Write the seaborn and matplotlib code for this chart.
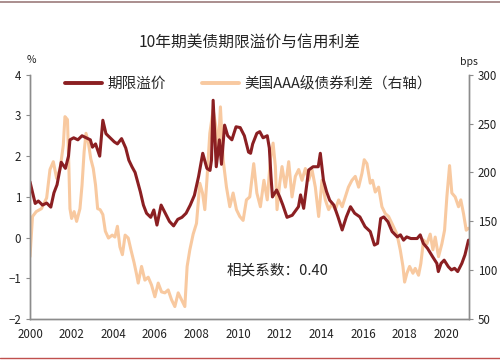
import matplotlib
matplotlib.use("Agg")
import matplotlib.pyplot as plt
import seaborn as sns
import pandas as pd

# term premium (%), left axis
tp_year = [2000.0, 2000.15, 2000.25, 2000.4, 2000.6, 2000.8, 2001.0, 2001.15, 2001.3, 2001.5,
           2001.7, 2001.85, 2001.92, 2002.1, 2002.3, 2002.5, 2002.7, 2002.9, 2003.0, 2003.15,
           2003.35, 2003.5, 2003.65, 2003.85, 2004.05, 2004.2, 2004.4, 2004.6, 2004.75, 2004.9,
           2005.05, 2005.3, 2005.45, 2005.6, 2005.8, 2005.95, 2006.1, 2006.3, 2006.5, 2006.7,
           2006.9, 2007.1, 2007.3, 2007.5, 2007.7, 2007.9, 2008.1, 2008.3, 2008.5, 2008.65,
           2008.72, 2008.8, 2008.95, 2009.1, 2009.2, 2009.35, 2009.5, 2009.7, 2009.9, 2010.1,
           2010.3, 2010.5, 2010.6, 2010.7, 2010.9, 2011.04, 2011.2, 2011.4, 2011.5, 2011.58,
           2011.65, 2011.85, 2012.0, 2012.15, 2012.35, 2012.6, 2012.9, 2013.0, 2013.15, 2013.39,
           2013.6, 2013.85, 2013.95, 2014.1, 2014.25, 2014.4, 2014.6, 2014.8, 2015.0, 2015.2,
           2015.4, 2015.6, 2015.85, 2016.1, 2016.35, 2016.55, 2016.7, 2016.85, 2017.0, 2017.2,
           2017.4, 2017.65, 2017.8, 2017.95, 2018.1, 2018.3, 2018.6, 2018.75, 2018.9, 2019.1,
           2019.35, 2019.55, 2019.62, 2019.75, 2019.9, 2020.1, 2020.25, 2020.4, 2020.55, 2020.75,
           2020.9, 2021.07]
tp_value = [1.37, 1.05, 0.84, 0.9, 0.8, 0.85, 0.75, 1.1, 1.3, 1.85,
            1.7, 2.0, 2.4, 2.45, 2.4, 2.5, 2.45, 2.4, 2.22, 2.3,
            2.0, 2.88, 2.55, 2.45, 2.35, 2.3, 2.43, 2.2, 1.9, 1.74,
            1.6, 1.13, 0.8, 0.6, 0.5, 0.68, 0.31, 0.8, 0.6, 0.4,
            0.29, 0.45, 0.5, 0.6, 0.8, 1.04, 1.5, 2.07, 1.7, 1.65,
            1.9, 3.37, 1.74, 2.4, 1.8, 2.76, 2.5, 2.4, 2.72, 2.7,
            2.5, 2.1, 2.07, 2.3, 2.56, 2.6, 2.45, 2.5, 2.2, 1.5,
            1.0, 1.17, 1.0, 0.8, 0.5, 0.55, 0.76, 1.05, 0.72, 1.66,
            1.74, 1.74, 2.07, 1.41, 1.13, 0.92, 0.8, 0.51, 0.19, 0.51,
            0.76, 0.6, 0.51, 0.27, 0.15, -0.18, -0.14, 0.47, 0.51, 0.39,
            0.15, 0.02, 0.07, -0.06, 0.02, -0.02, -0.02, 0.07, -0.14, -0.26,
            -0.47, -0.63, -0.83, -0.63, -0.55, -0.71, -0.79, -0.75, -0.83, -0.63,
            -0.42, -0.06]

# US AAA credit spread (bps), right axis
cs_year = [2000.0, 2000.12, 2000.3, 2000.55, 2000.8, 2000.96, 2001.12, 2001.28, 2001.45, 2001.6,
           2001.68, 2001.8, 2001.87, 2001.92, 2002.0, 2002.12, 2002.24, 2002.4, 2002.5, 2002.6,
           2002.69, 2002.8, 2002.92, 2003.04, 2003.15, 2003.25, 2003.37, 2003.5, 2003.62, 2003.77,
           2003.95, 2004.08, 2004.2, 2004.32, 2004.44, 2004.57, 2004.72, 2004.85, 2005.0, 2005.12,
           2005.2, 2005.36, 2005.52, 2005.68, 2005.84, 2006.0, 2006.16, 2006.32, 2006.48, 2006.64,
           2006.8, 2006.96, 2007.12, 2007.28, 2007.44, 2007.55, 2007.68, 2007.84, 2008.0, 2008.16,
           2008.29, 2008.4, 2008.5, 2008.64, 2008.8, 2008.93, 2009.04, 2009.15, 2009.28, 2009.44,
           2009.6, 2009.76, 2009.92, 2010.08, 2010.24, 2010.4, 2010.56, 2010.75, 2010.9, 2011.07,
           2011.24, 2011.4, 2011.55, 2011.68, 2011.79, 2011.87, 2012.0, 2012.11, 2012.27, 2012.43,
           2012.59, 2012.75, 2012.91, 2013.07, 2013.23, 2013.39, 2013.55, 2013.71, 2013.87, 2014.03,
           2014.19, 2014.35, 2014.51, 2014.67, 2014.83, 2015.0, 2015.15, 2015.3, 2015.47, 2015.63,
           2015.79, 2015.95, 2016.06, 2016.19, 2016.35, 2016.46, 2016.59, 2016.75, 2016.91, 2017.07,
           2017.23, 2017.39, 2017.63, 2017.79, 2017.92, 2018.0, 2018.11, 2018.24, 2018.4, 2018.51,
           2018.67, 2018.78, 2018.91, 2019.07, 2019.23, 2019.36, 2019.47, 2019.63, 2019.79, 2019.92,
           2020.03, 2020.16, 2020.27, 2020.43, 2020.59, 2020.7, 2020.83, 2020.96, 2021.07]
cs_value = [114, 155, 160, 163, 174, 203, 211, 194, 204, 228,
            257, 254, 204, 163, 153, 160, 150, 163, 187, 221,
            240, 231, 214, 204, 187, 163, 162, 157, 140, 133,
            136, 134, 145, 124, 116, 136, 133, 121, 108, 96,
            87, 104, 90, 93, 85, 73, 87, 78, 77, 80,
            70, 63, 77, 70, 63, 104, 121, 137, 148, 189,
            179, 162, 192, 240, 264, 247, 220, 267, 213, 185,
            165, 179, 162, 155, 151, 172, 175, 209, 179, 165,
            192, 172, 213, 230, 206, 162, 189, 206, 185, 211,
            175, 196, 203, 192, 204, 192, 203, 185, 155, 192,
            172, 162, 168, 162, 172, 165, 175, 185, 192, 196,
            185, 199, 213, 209, 189, 192, 180, 185, 165, 158,
            155, 148, 137, 121, 104, 88, 97, 104, 97, 102,
            95, 107, 131, 127, 137, 121, 134, 114, 127, 141,
            175, 207, 179, 175, 165, 172, 158, 141, 143]

x_ticks = list(range(2000, 2021, 2))
left_ticks = [-2, -1, 0, 1, 2, 3, 4]
right_ticks = [50, 100, 150, 200, 250, 300]

tp_df = pd.DataFrame({"year": tp_year, "value": tp_value})
cs_df = pd.DataFrame({"year": cs_year, "value": cs_value})

sns.set_style("white")
plt.rcParams['font.family'] = ['Noto Sans CJK SC', 'DejaVu Sans']

dark = "#8b1f22"
light = "#f8c9a0"
grey = "#8c8c8c"
txt = "#222222"

fig = plt.figure(figsize=(5, 3.62), dpi=100)
ax = fig.add_axes([0.06, 0.118, 0.877, 0.676])
ax2 = ax.twinx()

sns.lineplot(data=cs_df, x="year", y="value", ax=ax2, color=light, linewidth=2.2,
             label="美国AAA级债券利差（右轴）", legend=False)
sns.lineplot(data=tp_df, x="year", y="value", ax=ax, color=dark, linewidth=2.2,
             label="期限溢价", legend=False)

ax.set_zorder(ax2.get_zorder() + 1)
ax.patch.set_visible(False)

ax.set_xlim(2000, 2021.07)
ax.set_ylim(-2, 4)
ax2.set_ylim(50, 300)
ax.set_xticks(x_ticks)
ax.set_yticks(left_ticks)
ax2.set_yticks(right_ticks)
ax.set_xlabel("")
ax.set_ylabel("")
ax2.set_ylabel("")

for a in (ax, ax2):
    for s in a.spines.values():
        s.set_color(grey)
        s.set_linewidth(1.0)
    a.spines['top'].set_visible(False)
    a.tick_params(axis='both', labelsize=8.3, length=3, width=0.8,
                  direction='out', colors=grey, labelcolor=txt)

h1, l1 = ax.get_legend_handles_labels()
h2, l2 = ax2.get_legend_handles_labels()
ax.legend(h1 + h2, l1 + l2, loc="upper left", bbox_to_anchor=(0.05, 1.045), ncol=2,
          frameon=False, fontsize=10.5, handlelength=2.5, columnspacing=2.5,
          handletextpad=0.4)
for line in ax.get_legend().get_lines():
    line.set_linewidth(2.8)

ax.text(0.448, 0.20, "相关系数：0.40", transform=ax.transAxes, fontsize=10.5,
        color=txt, va="center")

fig.text(0.5, 0.884, "10年期美债期限溢价与信用利差", ha="center", va="center",
         fontsize=11.3, color=txt)
fig.text(0.062, 0.835, "%", ha="center", va="center", fontsize=7.5, color=txt)
fig.text(0.937, 0.828, "bps", ha="center", va="center", fontsize=7.5, color=txt)

fig.add_artist(plt.Line2D([0, 1], [0.995, 0.995], color="#9c7b7b", linewidth=1.2))
fig.add_artist(plt.Line2D([0, 1], [0.012, 0.012], color="#c0504d", linewidth=1.0))

fig.savefig("out.png", dpi=100)
